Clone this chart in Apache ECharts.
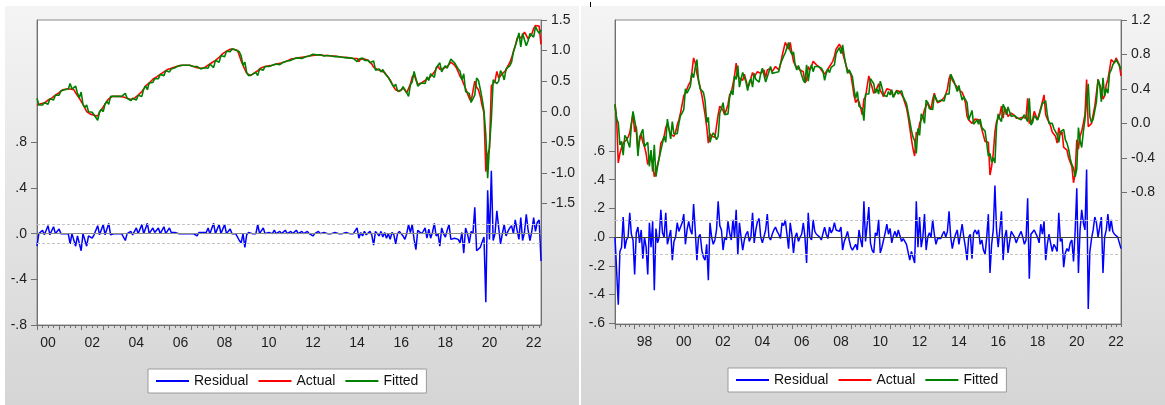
<!DOCTYPE html>
<html>
<head>
<meta charset="utf-8">
<script src="https://cdn.jsdelivr.net/npm/echarts@6/dist/echarts.min.js"></script>
<style>
html,body{margin:0;padding:0;background:#ffffff;}
#wrap{position:relative;width:1165px;height:405px;overflow:hidden;background:#ffffff;}
.bg{position:absolute;top:6px;height:399px;background:linear-gradient(#f4f4f4,#d5d5d5);}
#chart{position:absolute;left:0;top:0;width:1165px;height:405px;}
</style>
</head>
<body>
<div id="wrap">
  <div class="bg" style="left:5px;width:574px"></div>
  <div class="bg" style="left:581px;width:584px"></div>
  <div style="position:absolute;left:590px;top:2px;width:1px;height:5px;background:#000"></div>
  <div id="chart"></div>
</div>
<script>
// ---------------- DATA (monthly) ----------------
const seriesNames = ['Residual', 'Actual', 'Fitted'];

// Left panel: 2000M01 .. 2022M11
const leftStartYear = 2000;
const leftActual = [
0.11,0.11,0.13,0.14,0.14,0.17,0.19,0.20,0.22,0.25,0.27,0.28,
0.31,0.34,0.36,0.36,0.37,0.37,0.37,0.37,0.36,0.31,0.28,0.22,
0.17,0.12,0.06,0.00,-0.02,-0.04,-0.05,-0.06,-0.07,-0.07,-0.01,0.03,
0.08,0.12,0.17,0.21,0.24,0.25,0.25,0.25,0.25,0.25,0.25,0.24,
0.24,0.22,0.20,0.20,0.21,0.22,0.24,0.27,0.29,0.33,0.37,0.42,
0.45,0.47,0.50,0.53,0.55,0.57,0.59,0.61,0.63,0.65,0.67,0.69,
0.70,0.71,0.72,0.73,0.74,0.75,0.75,0.76,0.76,0.76,0.76,0.76,
0.75,0.74,0.73,0.72,0.72,0.71,0.72,0.72,0.73,0.76,0.78,0.80,
0.81,0.84,0.87,0.89,0.92,0.95,0.98,0.99,1.01,1.02,1.03,1.02,
1.01,1.00,0.92,0.83,0.76,0.69,0.63,0.60,0.59,0.61,0.63,0.64,
0.67,0.70,0.72,0.73,0.74,0.75,0.75,0.76,0.76,0.77,0.78,0.78,
0.79,0.80,0.81,0.82,0.83,0.84,0.86,0.87,0.87,0.88,0.88,0.89,
0.89,0.90,0.90,0.91,0.91,0.92,0.92,0.93,0.93,0.93,0.93,0.93,
0.92,0.92,0.92,0.92,0.91,0.91,0.91,0.90,0.90,0.90,0.89,0.89,
0.89,0.88,0.88,0.88,0.87,0.87,0.87,0.82,0.86,0.86,0.86,0.85,
0.84,0.82,0.78,0.73,0.70,0.69,0.68,0.67,0.66,0.64,0.60,0.56,
0.52,0.46,0.40,0.36,0.34,0.33,0.36,0.39,0.35,0.31,0.33,0.45,
0.57,0.61,0.52,0.45,0.45,0.47,0.49,0.51,0.53,0.55,0.58,0.61,
0.65,0.70,0.75,0.69,0.70,0.71,0.72,0.74,0.77,0.81,0.79,0.76,
0.72,0.65,0.58,0.53,0.45,0.38,0.30,0.22,0.17,0.14,0.50,0.40,
0.36,0.25,0.10,-0.02,-0.98,-0.71,-0.60,0.42,0.46,0.50,0.66,0.55,
0.58,0.62,0.60,0.68,0.75,0.80,0.88,0.98,1.08,1.20,1.24,1.20,
1.22,1.30,1.25,1.19,1.22,1.27,1.36,1.41,1.43,1.40,1.10
];
const leftFitted = [
0.22,0.11,0.14,0.11,0.15,0.17,0.12,0.21,0.22,0.19,0.27,0.29,
0.27,0.34,0.36,0.36,0.37,0.37,0.46,0.37,0.37,0.42,0.30,0.23,
0.32,0.12,0.07,0.11,0.00,-0.01,-0.01,-0.05,-0.07,-0.14,0.00,0.04,
0.00,0.13,0.17,0.12,0.25,0.26,0.25,0.25,0.25,0.25,0.25,0.24,
0.30,0.22,0.20,0.18,0.22,0.22,0.19,0.27,0.29,0.25,0.37,0.42,
0.36,0.47,0.50,0.48,0.54,0.57,0.54,0.61,0.63,0.59,0.67,0.69,
0.65,0.70,0.71,0.72,0.74,0.75,0.75,0.76,0.76,0.76,0.76,0.76,
0.75,0.74,0.73,0.74,0.71,0.70,0.71,0.72,0.72,0.71,0.78,0.80,
0.72,0.84,0.87,0.81,0.92,0.95,0.90,0.99,1.01,0.98,1.03,1.02,
1.01,1.00,0.98,0.91,0.76,0.81,0.64,0.59,0.58,0.61,0.63,0.64,
0.59,0.70,0.72,0.68,0.74,0.75,0.74,0.76,0.76,0.74,0.78,0.78,
0.77,0.80,0.81,0.79,0.83,0.84,0.84,0.87,0.87,0.85,0.88,0.89,
0.87,0.90,0.90,0.89,0.91,0.92,0.94,0.93,0.93,0.91,0.93,0.93,
0.91,0.92,0.92,0.91,0.91,0.91,0.90,0.90,0.90,0.89,0.89,0.89,
0.88,0.88,0.88,0.87,0.87,0.87,0.82,0.86,0.85,0.88,0.84,0.86,
0.84,0.80,0.79,0.83,0.68,0.69,0.70,0.65,0.69,0.63,0.64,0.56,
0.57,0.45,0.41,0.45,0.34,0.31,0.35,0.41,0.40,0.31,0.25,0.44,
0.49,0.66,0.66,0.42,0.41,0.47,0.47,0.46,0.57,0.51,0.62,0.60,
0.56,0.72,0.75,0.80,0.65,0.71,0.75,0.71,0.69,0.86,0.85,0.80,
0.75,0.70,0.66,0.52,0.62,0.33,0.30,0.30,0.15,0.14,0.27,0.55,
0.51,0.37,0.21,0.01,-0.38,-1.09,-0.55,-0.13,0.52,0.50,0.46,0.50,
0.67,0.62,0.52,0.70,0.73,0.75,0.81,0.98,0.96,1.17,1.29,1.06,
1.28,1.29,1.08,1.16,1.28,1.25,1.22,1.39,1.33,1.28,1.34
];
const leftResidual = [
-0.11,0.00,-0.01,0.03,-0.01,0.00,0.07,-0.01,0.00,0.06,0.00,-0.01,
0.04,0.00,0.00,0.00,0.00,0.00,-0.09,0.00,-0.01,-0.11,-0.02,-0.01,
-0.15,0.00,-0.01,-0.11,-0.02,-0.03,-0.04,-0.01,0.00,0.07,-0.01,-0.01,
0.08,-0.01,0.00,0.09,-0.01,-0.01,0.00,0.00,0.00,0.00,0.00,0.00,
-0.06,0.00,0.00,0.02,-0.01,0.00,0.05,0.00,0.00,0.08,0.00,0.00,
0.09,0.00,0.00,0.05,0.01,0.00,0.05,0.00,0.00,0.06,0.00,0.00,
0.05,0.01,0.01,0.01,0.00,0.00,0.00,0.00,0.00,0.00,0.00,0.00,
0.00,0.00,0.00,-0.02,0.01,0.01,0.01,0.00,0.01,0.05,0.00,0.00,
0.09,0.00,0.00,0.08,0.00,0.00,0.08,0.00,0.00,0.04,0.00,0.00,
0.00,0.00,-0.06,-0.08,0.00,-0.12,-0.01,0.01,0.01,0.00,0.00,0.00,
0.08,0.00,0.00,0.05,0.00,0.00,0.01,0.00,0.00,0.03,0.00,0.00,
0.02,0.00,0.00,0.03,0.00,0.00,0.02,0.00,0.00,0.03,0.00,0.00,
0.02,0.00,0.00,0.02,0.00,0.00,-0.02,0.00,0.00,0.02,0.00,0.00,
0.01,0.00,0.00,0.01,0.00,0.00,0.01,0.00,0.00,0.01,0.00,0.00,
0.01,0.00,0.00,0.01,0.00,0.00,0.05,-0.04,0.01,-0.02,0.02,-0.01,
0.00,0.02,-0.01,-0.10,0.02,0.00,-0.02,0.02,-0.03,0.01,-0.04,0.00,
-0.05,0.01,-0.01,-0.09,0.00,0.02,0.01,-0.02,-0.05,0.00,0.08,0.01,
0.08,-0.05,-0.14,0.03,0.04,0.00,0.02,0.05,-0.04,0.04,-0.04,0.01,
0.09,-0.02,0.00,-0.11,0.05,0.00,-0.03,0.03,0.08,-0.05,-0.06,-0.04,
-0.03,-0.05,-0.08,0.01,-0.17,0.05,0.00,-0.08,0.02,0.00,0.23,-0.15,
-0.15,-0.12,-0.11,-0.03,-0.60,0.38,-0.05,0.55,-0.06,0.00,0.20,0.05,
-0.09,0.00,0.08,-0.02,0.02,0.05,0.07,0.00,0.12,0.03,-0.05,0.14,
-0.06,0.01,0.17,0.03,-0.06,0.02,0.14,0.02,0.10,0.12,-0.24
];
const leftResidualBand = 0.083;
const leftResidualTicks = [-0.8, -0.4, 0, 0.4, 0.8];
const leftLevelTicks = [-1.5, -1.0, -0.5, 0, 0.5, 1.0, 1.5];

// Right panel: 1997M01 .. 2022M10
const rightStartYear = 1997;
const rightActual = [
0.22,0.05,-0.46,-0.35,-0.28,-0.23,-0.22,-0.19,-0.16,-0.11,0.00,0.12,
-0.10,-0.04,-0.31,-0.20,-0.13,-0.22,-0.27,-0.35,-0.48,-0.40,-0.38,-0.45,
-0.62,-0.56,-0.54,-0.40,-0.23,-0.20,-0.15,-0.05,0.00,-0.07,-0.13,-0.14,
-0.15,-0.10,-0.02,0.04,0.12,0.22,0.32,0.35,0.40,0.45,0.48,0.60,
0.76,0.70,0.58,0.50,0.42,0.33,0.22,0.10,-0.04,-0.23,-0.12,-0.15,
-0.16,-0.16,-0.14,0.10,0.20,0.22,0.15,0.10,0.08,0.22,0.33,0.36,
0.45,0.55,0.70,0.55,0.52,0.52,0.50,0.57,0.50,0.42,0.45,0.52,
0.59,0.54,0.56,0.60,0.61,0.58,0.60,0.62,0.53,0.62,0.60,0.64,
0.60,0.62,0.66,0.65,0.62,0.68,0.78,0.86,0.94,0.93,0.86,0.94,
0.82,0.72,0.68,0.65,0.64,0.62,0.63,0.60,0.47,0.50,0.66,0.62,
0.66,0.72,0.70,0.68,0.68,0.65,0.62,0.60,0.57,0.60,0.62,0.66,
0.68,0.72,0.78,0.86,0.88,0.92,0.88,0.82,0.75,0.68,0.62,0.60,
0.57,0.45,0.32,0.24,0.28,0.25,0.18,0.10,0.28,0.31,0.30,0.55,
0.48,0.42,0.35,0.38,0.41,0.46,0.38,0.35,0.31,0.36,0.40,0.39,
0.39,0.35,0.31,0.35,0.38,0.39,0.37,0.35,0.30,0.24,0.18,0.08,
-0.05,-0.18,-0.30,-0.38,-0.10,-0.13,0.00,0.04,0.08,0.16,0.18,0.24,
0.20,0.16,0.28,0.35,0.28,0.24,0.25,0.26,0.28,0.30,0.34,0.40,
0.52,0.57,0.50,0.47,0.45,0.42,0.39,0.37,0.36,0.31,0.24,0.08,
0.04,0.05,0.00,0.02,0.05,0.06,0.04,0.00,-0.07,-0.14,-0.21,-0.23,
-0.22,-0.60,-0.50,-0.35,-0.10,0.02,0.04,0.10,0.20,0.06,0.18,0.15,
0.08,0.10,0.12,0.11,0.09,0.06,0.05,0.06,0.08,0.07,0.05,0.06,
0.29,0.00,0.00,0.04,0.14,0.12,0.04,0.05,0.18,0.25,0.33,0.10,
0.05,0.02,-0.03,-0.10,-0.11,-0.15,-0.23,-0.05,-0.13,-0.10,-0.28,-0.30,
-0.31,-0.40,-0.45,-0.50,-0.69,-0.58,-0.19,-0.30,-0.15,-0.09,0.00,0.10,
0.51,-0.04,-0.02,0.00,0.10,0.20,0.35,0.51,0.45,0.39,0.28,0.32,
0.45,0.51,0.62,0.74,0.72,0.70,0.76,0.72,0.68,0.55
];
const rightFitted = [
0.22,0.05,0.01,-0.25,-0.21,-0.37,-0.14,-0.17,-0.16,-0.28,-0.02,0.14,
0.16,-0.07,-0.38,-0.16,-0.18,-0.07,-0.27,-0.28,-0.22,-0.50,-0.31,-0.56,
-0.25,-0.62,-0.50,-0.40,-0.42,-0.23,-0.15,-0.22,0.05,-0.07,-0.18,0.02,
-0.12,-0.10,-0.12,0.00,0.09,0.12,0.16,0.40,0.35,0.34,0.43,0.58,
0.53,0.65,0.74,0.50,0.40,0.42,0.36,0.26,0.01,0.07,-0.22,-0.15,
-0.11,-0.14,-0.19,-0.15,0.12,0.17,0.24,0.10,0.10,0.11,0.30,0.38,
0.33,0.55,0.51,0.67,0.42,0.52,0.59,0.59,0.48,0.38,0.48,0.52,
0.42,0.58,0.51,0.49,0.48,0.58,0.64,0.66,0.48,0.46,0.60,0.66,
0.58,0.57,0.59,0.61,0.60,0.69,0.68,0.78,0.82,0.82,0.94,0.84,
0.80,0.83,0.68,0.62,0.67,0.62,0.61,0.50,0.47,0.68,0.49,0.62,
0.68,0.60,0.66,0.66,0.66,0.65,0.64,0.61,0.50,0.58,0.63,0.59,
0.65,0.67,0.68,0.81,0.82,0.88,0.81,0.91,0.78,0.68,0.58,0.62,
0.64,0.54,0.39,0.29,0.37,0.20,0.20,0.17,0.03,0.34,0.33,0.34,
0.52,0.51,0.46,0.35,0.40,0.34,0.49,0.42,0.33,0.33,0.31,0.37,
0.33,0.39,0.30,0.31,0.38,0.34,0.36,0.38,0.31,0.27,0.23,0.13,
0.11,-0.08,-0.16,-0.20,-0.35,-0.06,-0.14,0.11,0.08,0.00,0.27,0.24,
0.17,0.16,0.16,0.33,0.33,0.25,0.25,0.27,0.26,0.26,0.34,0.36,
0.34,0.57,0.58,0.49,0.43,0.37,0.44,0.35,0.27,0.31,0.31,0.24,
0.04,0.03,0.15,-0.01,0.00,0.04,-0.01,0.05,-0.05,-0.05,-0.09,-0.23,
-0.38,-0.35,-0.45,-0.40,-0.46,-0.03,0.11,0.05,0.02,0.22,0.18,0.10,
0.19,0.13,0.08,0.09,0.09,0.10,0.06,0.06,0.04,0.07,0.10,0.08,
0.02,0.29,-0.02,0.01,0.09,0.08,0.04,0.09,0.09,0.23,0.22,0.26,
0.10,0.00,0.01,0.00,-0.06,-0.08,-0.13,-0.22,-0.10,-0.09,-0.07,-0.19,
-0.23,-0.30,-0.41,-0.48,-0.52,-0.62,-0.53,-0.05,-0.20,-0.28,-0.10,0.05,
0.04,0.46,0.08,0.01,0.05,0.06,0.25,0.51,0.44,0.25,0.53,0.32,
0.40,0.35,0.58,0.62,0.68,0.68,0.74,0.72,0.67,0.63
];
const rightResidual = [
0.00,0.00,-0.47,-0.10,-0.07,0.14,-0.08,-0.02,0.00,0.17,0.02,-0.02,
-0.26,0.03,0.07,-0.04,0.05,-0.15,0.00,-0.07,-0.26,0.10,-0.07,0.11,
-0.37,0.06,-0.04,0.00,0.19,0.03,0.00,0.17,-0.05,0.00,0.05,-0.16,
-0.03,0.00,0.10,0.04,0.03,0.10,0.16,-0.05,0.05,0.11,0.05,0.02,
0.23,0.05,-0.16,0.00,0.02,-0.09,-0.14,-0.16,-0.05,-0.30,0.10,0.00,
-0.05,-0.02,0.05,0.25,0.08,0.05,-0.09,0.00,-0.02,0.11,0.03,-0.02,
0.12,0.00,0.19,-0.12,0.10,0.00,-0.09,-0.02,0.02,0.04,-0.03,0.00,
0.17,-0.04,0.05,0.11,0.13,0.00,-0.04,-0.04,0.05,0.16,0.00,-0.02,
0.02,0.05,0.07,0.04,0.02,-0.01,0.10,0.08,0.12,0.11,-0.08,0.10,
0.02,-0.11,0.00,0.03,-0.03,0.00,0.02,0.10,0.00,-0.18,0.17,0.00,
-0.02,0.12,0.04,0.02,0.02,0.00,-0.02,-0.01,0.07,0.02,-0.01,0.07,
0.03,0.05,0.10,0.05,0.06,0.04,0.07,-0.09,-0.03,0.00,0.04,-0.02,
-0.07,-0.09,-0.07,-0.05,-0.09,0.05,-0.02,-0.07,0.25,-0.03,-0.03,0.21,
-0.04,-0.09,-0.11,0.03,0.01,0.12,-0.11,-0.07,-0.02,0.03,0.09,0.02,
0.06,-0.04,0.01,0.04,0.00,0.05,0.01,-0.03,-0.01,-0.03,-0.05,-0.05,
-0.16,-0.10,-0.14,-0.18,0.25,-0.07,0.14,-0.07,0.00,0.16,-0.09,0.00,
0.03,0.00,0.12,0.02,-0.05,-0.01,0.00,-0.01,0.02,0.04,0.00,0.04,
0.18,0.00,-0.08,-0.02,0.02,0.05,-0.05,0.02,0.09,0.00,-0.07,-0.16,
0.00,0.02,-0.15,0.03,0.05,0.02,0.05,-0.05,-0.02,-0.09,-0.12,0.00,
0.16,-0.25,-0.05,0.05,0.36,0.05,-0.07,0.05,0.18,-0.16,0.00,0.05,
-0.11,-0.03,0.04,0.02,0.00,-0.04,-0.01,0.00,0.04,0.00,-0.05,-0.02,
0.27,-0.29,0.02,0.03,0.05,0.04,0.00,-0.04,0.09,0.02,0.11,-0.16,
-0.05,0.02,-0.04,-0.10,-0.05,-0.07,-0.10,0.17,-0.03,-0.01,-0.21,-0.11,
-0.08,-0.10,-0.04,-0.02,-0.17,0.04,0.34,-0.25,0.05,0.19,0.10,0.05,
0.47,-0.50,-0.10,-0.01,0.05,0.14,0.10,0.00,0.01,0.14,-0.25,0.00,
0.05,0.16,0.04,0.12,0.04,0.02,0.02,0.00,0.01,-0.08
];
const rightResidualBand = 0.116;
const rightResidualTicks = [-0.6, -0.4, -0.2, 0, 0.2, 0.4, 0.6];
const rightLevelTicks = [-0.8, -0.4, 0, 0.4, 0.8, 1.2];

// ---------------- HELPERS ----------------
const FONT = "'Liberation Sans', Arial, Helvetica, sans-serif";
const AXIS_COLOR = '#707070';
const TEXT_COLOR = '#1e1e1e';
const SERIES_COLORS = { Residual: '#0000ff', Actual: '#ff0000', Fitted: '#008000' };

function pairs(arr) { return arr.map((v, i) => [i, v]); }
function stepPositions(n, step, offset) {
  const out = [];
  for (let i = offset; i < n; i += step) out.push(i);
  return out;
}
function evenYearLabelPositions(n, startYear) {
  const out = [];
  for (let i = 0; i < n; i += 12) {
    const y = startYear + i / 12;
    if (y % 2 === 0 && i + 6 < n) out.push(i + 6);
  }
  return out;
}
function residFmt(v) {
  if (Math.abs(v) < 1e-9) return '.0';
  const s = Math.abs(v).toFixed(1).replace(/^0/, '');
  return (v < 0 ? '-' : '') + s;
}
function levelFmt(v) { return (Math.abs(v) < 1e-9 ? 0 : v).toFixed(1); }
function yearFmt(startYear) {
  return v => String((startYear + Math.floor(v / 12)) % 100).padStart(2, '0');
}

const labelFont = { fontSize: 14, color: TEXT_COLOR, fontFamily: FONT };

function xAxes(gridIndex, n, startYear) {
  return [
    {
      gridIndex, type: 'value', min: 0, max: n - 1, position: 'bottom',
      axisLine: { show: true, onZero: false, lineStyle: { color: AXIS_COLOR, width: 1 } },
      axisTick: { show: true, customValues: stepPositions(n, 3, 0), length: 3, lineStyle: { color: AXIS_COLOR } },
      axisLabel: { show: false },
      splitLine: { show: false }
    },
    {
      gridIndex, type: 'value', min: 0, max: n - 1, position: 'bottom',
      axisLine: { show: false, onZero: false },
      axisTick: { show: true, customValues: stepPositions(n, 12, 0), length: 5, lineStyle: { color: AXIS_COLOR } },
      axisLabel: Object.assign({ show: true, customValues: evenYearLabelPositions(n, startYear), formatter: yearFmt(startYear), margin: 11 }, labelFont),
      splitLine: { show: false }
    }
  ];
}
function yAxis(gridIndex, position, min, max, ticks, fmt) {
  return {
    gridIndex, type: 'value', position, min, max,
    axisLine: { show: true, onZero: false, lineStyle: { color: AXIS_COLOR, width: 1 } },
    axisTick: { show: true, customValues: ticks, length: 6, inside: false, lineStyle: { color: AXIS_COLOR } },
    axisLabel: Object.assign({ show: true, customValues: ticks, formatter: fmt, margin: 10 }, labelFont),
    splitLine: { show: false }
  };
}
function residSeries(xi, yi, data, band, zeroColor) {
  return {
    type: 'line', name: seriesNames[0], xAxisIndex: xi, yAxisIndex: yi,
    data: pairs(data), symbol: 'none', showSymbol: false,
    lineStyle: { color: SERIES_COLORS.Residual, width: 1.5 }, itemStyle: { color: SERIES_COLORS.Residual }, z: 3,
    markLine: {
      silent: true, symbol: 'none', animation: false, label: { show: false },
      data: [
        { yAxis: 0, lineStyle: { color: zeroColor, type: 'solid', width: 1 } },
        { yAxis: band, lineStyle: { color: '#c4c4c4', type: [3, 2], width: 1 } },
        { yAxis: -band, lineStyle: { color: '#c4c4c4', type: [3, 2], width: 1 } }
      ]
    }
  };
}
function levelSeries(name, xi, yi, data, z) {
  const color = SERIES_COLORS[name];
  return {
    type: 'line', name, xAxisIndex: xi, yAxisIndex: yi,
    data: pairs(data), symbol: 'none', showSymbol: false,
    lineStyle: { color, width: 1.6 }, itemStyle: { color }, z
  };
}
function legendAt(left, top) {
  return {
    data: seriesNames.map(n => ({ name: n, icon: 'rect', itemStyle: { color: SERIES_COLORS[n] } })),
    left, top, orient: 'horizontal',
    itemWidth: 33, itemHeight: 2, itemGap: 10, padding: [5, 8],
    backgroundColor: '#ffffff', borderColor: '#9a9a9a', borderWidth: 1, borderRadius: 0,
    selectedMode: false,
    textStyle: { fontSize: 14, color: '#111111', fontFamily: FONT, lineHeight: 14 }
  };
}

const nL = leftActual.length;
const nR = rightActual.length;

const option = {
  animation: false,
  backgroundColor: 'transparent',
  textStyle: { fontFamily: FONT },
  grid: [
    { left: 37, top: 20, width: 504, height: 305, show: true, backgroundColor: '#ffffff', borderColor: '#8c8c8c', borderWidth: 1 },
    { left: 615, top: 20, width: 506, height: 304, show: true, backgroundColor: '#ffffff', borderColor: '#8c8c8c', borderWidth: 1 }
  ],
  xAxis: [].concat(xAxes(0, nL, leftStartYear), xAxes(1, nR, rightStartYear)),
  yAxis: [
    yAxis(0, 'left', -0.8, 1.871, leftResidualTicks, residFmt),
    yAxis(0, 'right', -3.49, 1.5, leftLevelTicks, levelFmt),
    yAxis(1, 'left', -0.605, 1.512, rightResidualTicks, residFmt),
    yAxis(1, 'right', -2.33, 1.2, rightLevelTicks, levelFmt)
  ],
  legend: [legendAt(148, 369), legendAt(728, 368)],
  series: [
    residSeries(0, 0, leftResidual, leftResidualBand, '#8c8c8c'),
    levelSeries(seriesNames[1], 0, 1, leftActual, 4),
    levelSeries(seriesNames[2], 0, 1, leftFitted, 5),
    residSeries(2, 2, rightResidual, rightResidualBand, '#404040'),
    levelSeries(seriesNames[1], 2, 3, rightActual, 4),
    levelSeries(seriesNames[2], 2, 3, rightFitted, 5)
  ]
};

const chart = echarts.init(document.getElementById('chart'), null, { renderer: 'canvas' });
chart.setOption(option);
</script>
</body>
</html>
